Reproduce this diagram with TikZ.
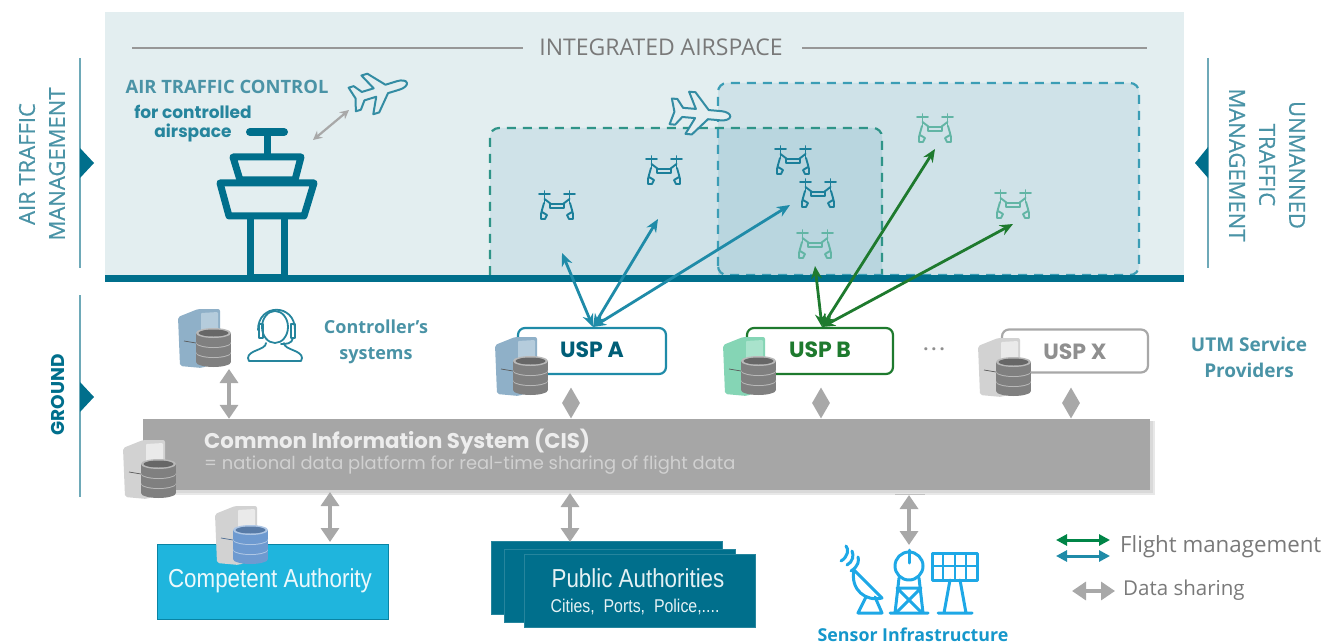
\documentclass[tikz,border=0pt]{standalone}
\usepackage{fontspec}
\usetikzlibrary{arrows.meta,calc,shapes.geometric}
\setmainfont{Open Sans}
\newfontfamily\headfont{Poppins}
\newfontfamily\narrowfont[FakeStretch=0.86]{Liberation Sans}
\newfontfamily\sidefont[FakeBold=0.5]{Open Sans}
\definecolor{teal1}{HTML}{006F8C}
\definecolor{tealtxt}{HTML}{4A93A6}
\definecolor{sky}{HTML}{E3EEF0}
\definecolor{zoneA}{HTML}{CFE2E8}
\definecolor{zoneAB}{HTML}{B9D6DF}
\definecolor{dashA}{HTML}{2F9488}
\definecolor{dashB}{HTML}{3B9DB5}
\definecolor{arrA}{HTML}{1F8BA8}
\definecolor{arrB}{HTML}{1E7A2E}
\definecolor{lgray}{HTML}{A8A8A8}
\definecolor{cisgray}{HTML}{A6A6A6}
\definecolor{droneL}{HTML}{62B5A5}
\definecolor{droneD}{HTML}{1B7F9A}
\definecolor{sensor}{HTML}{1EA8E6}
\definecolor{compfill}{HTML}{1FB5DD}
\definecolor{srvblue}{HTML}{8FB0C8}
\definecolor{srvbluel}{HTML}{B5CCDC}
\definecolor{srvgreen}{HTML}{85D5B5}
\definecolor{srvgreenl}{HTML}{A9E3CC}
\definecolor{srvgray}{HTML}{D2D2D2}
\definecolor{srvgrayl}{HTML}{EAEAEA}
\definecolor{dbgray}{HTML}{808080}
\definecolor{dbblue}{HTML}{6E9AD0}
\tikzset{
  x=1pt,y=-1pt,
  sideline/.style={draw=tealtxt!80,line width=1.2pt},
  marker/.style={fill=teal1,draw=none},
  lbl/.style={text=tealtxt,font=\bfseries\fontsize{18}{26}\selectfont,align=center},
  sidelbl/.style={text=tealtxt,font=\sidefont\fontsize{22}{30}\selectfont,align=center,inner sep=0pt},
  uspbox/.style={draw=#1,line width=2.2pt,fill=white,rounded corners=7pt},
  usptxt/.style={text=#1,font=\headfont\bfseries\fontsize{22}{26}\selectfont,inner sep=0pt},
  fm/.style={{Stealth[length=13pt,width=11pt]}-{Stealth[length=13pt,width=11pt]},line width=2.8pt,draw=#1},
  lgarrow/.style={{Triangle[length=11pt,width=11pt]}-{Triangle[length=11pt,width=11pt]},line width=3pt,draw=#1},
  ds/.style={{Triangle[length=14pt,width=18pt]}-{Triangle[length=14pt,width=18pt]},line width=3.4pt,draw=lgray},
  dmd/.style={diamond,fill=lgray,draw=none,minimum width=18pt,minimum height=31pt,inner sep=0pt,aspect=0.57},
  pubbox/.style={fill=teal1,draw=teal1!85!white,line width=.6pt,minimum width=231pt,minimum height=73pt,inner sep=0pt},
  sens/.style={draw=sensor,line width=3pt,line join=round,line cap=round},
  towerline/.style={draw=teal1,line width=7pt,line join=round,line cap=round},
}
% server icon: x, y of the top left corner, tower colour, tower light colour, disc colour
\newcommand{\srvicon}[5]{%
\begin{scope}[shift={(#1,#2)}]
  \fill[#3,rounded corners=2pt] (0,9)--(20,1)--(42,1)--(42,52)--(24,60)--(2,58)--cycle;
  \fill[#4,rounded corners=1pt] (23,5)--(40,4)--(40,30)--(23,32)--cycle;
  \draw[#5!70!black,line width=.7pt] (6,33)--(18,35);
  \foreach \yy in {45,35,25}{
    \fill[#5] (18,\yy) rectangle (53,\yy+9);
    \fill[#5] (35.5,\yy+9) ellipse [x radius=17.5,y radius=5];
    \fill[#5!55!white] (35.5,\yy) ellipse [x radius=17.5,y radius=5];
    \fill[#5!80!black] (35.5,\yy) ellipse [x radius=15,y radius=3.5];
  }
\end{scope}}
% drone icon: centre x, y, colour
\newcommand{\droneicon}[3]{%
\begin{scope}[shift={(#1,#2)},line width=1.9pt,line cap=round,line join=round]
  \draw[#3] (-18,-12)--(-7,-12) (7,-12)--(18,-12) (-12.5,-15)--(-12.5,-3) (12.5,-15)--(12.5,-3);
  \draw[#3] (-12.5,-7) -- (-6,-2) -- (6,-2) -- (12.5,-7);
  \draw[#3] (-7,-2) rectangle (7,2);
  \draw[#3] (-13,-3) -- (-15,4) -- (-16,8) -- (-16,13) -- (-12,13) -- (-10,9) -- (-15,6);
  \draw[#3] (13,-3) -- (15,4) -- (16,8) -- (16,13) -- (12,13) -- (10,9) -- (15,6);
\end{scope}}
% plane icon: centre x, y, rotation, scale
\newcommand{\planeicon}[4]{%
\begin{scope}[shift={(#1,#2)},rotate=#3,scale=#4,line join=round]
  \draw[draw=teal1!80,line width=2pt,fill=sky]
   (32,0) .. controls (32,-3) and (27,-5) .. (22,-5) -- (8,-5) -- (-8,-23) -- (-15,-23) -- (-6,-5)
   -- (-20,-5) -- (-27,-14) -- (-33,-14) -- (-29,0) -- (-33,14) -- (-27,14) -- (-20,5) -- (-6,5)
   -- (-15,23) -- (-8,23) -- (8,5) -- (22,5) .. controls (27,5) and (32,3) .. (32,0) -- cycle;
\end{scope}}
\begin{document}
\begin{tikzpicture}
\useasboundingbox (0,0) rectangle (1324,644);
% airspace
\fill[sky] (105,12) rectangle (1184,278);
\fill[zoneA,rounded corners=9pt] (490,128) -- (882,128) -- (882,300) -- (490,300) -- cycle;
\fill[zoneA,rounded corners=9pt] (718,83) -- (1139,83) -- (1139,276) -- (718,276) -- cycle;
\begin{scope}
  \clip (718,83) rectangle (1139,276);
  \fill[zoneAB,rounded corners=9pt] (490,128) -- (882,128) -- (882,300) -- (490,300) -- cycle;
\end{scope}
\fill[white] (100,281) rectangle (1190,305);
\draw[dashA,line width=2.2pt,dash pattern=on 9pt off 7pt,rounded corners=9pt] (490,275) -- (490,128) -- (882,128) -- (882,275);
\draw[dashB,line width=2.2pt,dash pattern=on 9pt off 7pt,rounded corners=9pt] (718,275) -- (718,83) -- (1139,83) -- (1139,275) -- cycle;
% title
\node[text=gray!95!black,font=\fontsize{23}{27}\selectfont,inner sep=0pt] (title) at (661,47) {INTEGRATED AIRSPACE};
\coordinate (tl) at (132,48);
\coordinate (tm1) at (523,48);
\coordinate (tm2) at (802,48);
\coordinate (tr) at (1147,48);
\draw[lgray!90!black,line width=2.4pt] (tl) -- (tm1);
\draw[lgray!90!black,line width=2.4pt] (tm2) -- (tr);
% left side
\draw[sideline] (80,58) -- (80,268);
\fill[marker] (80,148) -- (94,163) -- (80,178) -- cycle;
\node[sidelbl,rotate=90] (atm) at (42,164) {AIR TRAFFIC\\MANAGEMENT};
\draw[sideline] (1208,58) -- (1208,268);
\fill[marker] (1208,147) -- (1195,163) -- (1208,178) -- cycle;
\node[sidelbl,rotate=-90] (utm) at (1267,165) {UNMANNED\\TRAFFIC\\MANAGEMENT};
\draw[sideline] (80,295) -- (80,497);
\fill[marker] (80,382) -- (94,397) -- (80,412) -- cycle;
\node[text=teal1,font=\headfont\bfseries\fontsize{18.5}{22}\selectfont,rotate=90,inner sep=0pt] (gnd) at (58,395) {GROUND};
% ATC
\node[text=tealtxt,font=\bfseries\fontsize{18.4}{22}\selectfont,inner sep=0pt] (atc) at (227,87) {AIR TRAFFIC CONTROL};
\node[text=teal1!85,font=\headfont\bfseries\fontsize{17}{19}\selectfont,align=center,inner sep=0pt] (forc) at (193,124) {for controlled\\airspace};
\draw[towerline,line width=8pt] (250,132) -- (284,132);
\draw[towerline] (267,132) -- (267,155);
\draw[towerline] (233,157) -- (301,157) -- (295,180) -- (240,180) -- cycle;
\draw[towerline] (220,183) -- (314,183) -- (304,216) -- (229,216) -- cycle;
\draw[towerline,line cap=butt] (250,216) -- (250,276) (284,216) -- (284,276);
\draw[teal1,line width=3pt] (250,275) -- (284,275);
\planeicon{380}{91}{17}{0.88}
\coordinate (ca) at (313,140);
\coordinate (cb) at (349,110);
\draw[{Stealth[length=9pt,width=9pt]}-{Stealth[length=9pt,width=9pt]},draw=lgray,line width=2.2pt] (ca) -- (cb);
\planeicon{701}{114}{-5}{0.92}
% ground line
\fill[teal1] (105,275) rectangle (1184,282);
% drones
\droneicon{557}{206}{droneD}
\droneicon{664}{171}{droneD}
\droneicon{793}{161}{droneD}
\droneicon{818}{194}{droneD}
\droneicon{815}{245}{droneL}
\droneicon{935}{129}{droneL}
\droneicon{1013}{205}{droneL}
% USP boxes
\node[uspbox=arrA,minimum width=148pt,minimum height=46pt,inner sep=0pt] (uspa) at (592,351) {};
\node[usptxt=teal1!85!black] (uspat) at (592,350) {USP A};
\node[uspbox=arrB,minimum width=146pt,minimum height=46pt,inner sep=0pt] (uspb) at (820,351) {};
\node[usptxt=arrB] (uspbt) at (820,350) {USP B};
\node[uspbox=lgray,minimum width=146pt,minimum height=43pt,inner sep=0pt] (uspx) at (1075,351) {};
\node[usptxt=lgray!85!black] (uspxt) at (1075,352) {USP X};
\node[text=lgray!85!black,font=\bfseries\fontsize{18}{20}\selectfont,inner sep=0pt] (dots) at (934,349) {.\,.\,.};
\srvicon{495}{336}{srvblue}{srvbluel}{dbgray}
\srvicon{723}{336}{srvgreen}{srvgreenl}{dbgray}
\srvicon{978}{337}{srvgray}{srvgrayl}{dbgray}
\srvicon{178}{308}{srvblue}{srvbluel}{dbgray}
% USP arrows
\coordinate (a0) at (593,327);
\coordinate (a1) at (562,253);
\coordinate (a2) at (658,219);
\coordinate (a3) at (790,205);
\coordinate (b0) at (822,327);
\coordinate (b1) at (815,266);
\coordinate (b2) at (935,149);
\coordinate (b3) at (1013,224);
\foreach \t in {a1,a2,a3}
  \draw[fm=arrA] (a0) -- (\t);
\foreach \t in {b1,b2,b3}
  \draw[fm=arrB] (b0) -- (\t);
% controller
\begin{scope}[draw=teal1!85,line width=1.8pt,line cap=round,line join=round]
  \draw (275,327) ellipse [x radius=13,y radius=16];
  \draw (258,330) .. controls (258,303) and (295,303) .. (295,330);
  \draw (259,324) rectangle (263,338);
  \draw (291,324) rectangle (295,338);
  \draw (293,338) .. controls (292,344) and (286,344) .. (281,344);
  \draw (266,343) .. controls (266,350) and (248,350) .. (248,358) -- (249,361) -- (301,361) -- (302,358) .. controls (302,350) and (284,350) .. (284,343);
\end{scope}
\node[lbl] (ctrl) at (376,342) {Controller’s\\systems};
\node[lbl,font=\bfseries\fontsize{19}{26}\selectfont] (utmsp) at (1249,357) {UTM Service\\Providers};
% CIS
\fill[gray!18] (145,421) rectangle (1155,495);
\fill[gray!30] (145,421) rectangle (1153,493);
\node[fill=cisgray,minimum width=1007pt,minimum height=71pt,inner sep=0pt] (cis) at (646.5,454.5) {};
\node[anchor=west,text=white!93!black,font=\headfont\bfseries\fontsize{21.3}{25}\selectfont,inner sep=0pt] (cist) at (204,442) {Common Information System (CIS)};
\node[anchor=west,text=white!82!black,font=\headfont\fontsize{17.9}{21}\selectfont,inner sep=0pt] (cis2) at (204,465) {= national data platform for real-time sharing of flight data};
\srvicon{123}{439}{srvgray}{srvgrayl}{dbgray}
% diamonds
\node[dmd] (d1) at (571,403) {};
\node[dmd] (d2) at (821,403) {};
\node[dmd] (d3) at (1071,403) {};
% authorities
\node[draw=teal1!70!compfill,line width=1pt,fill=compfill,minimum width=231pt,minimum height=75pt,inner sep=0pt] (comp) at (272.5,581.5) {};
\node[text=white!92!compfill,font=\narrowfont\fontsize{26}{30}\selectfont,inner sep=0pt] (compt) at (270,581) {Competent Authority};
\srvicon{215}{505}{srvgray}{srvgrayl}{dbblue}
\node[pubbox] (p1) at (607,578) {};
\node[pubbox] (p2) at (620,586) {};
\node[pubbox] (p3) at (640,591) {};
\node[text=white!90!teal1,font=\narrowfont\fontsize{26}{30}\selectfont,inner sep=0pt] (pt1) at (638,578) {Public Authorities};
\node[text=white!90!teal1,font=\narrowfont\fontsize{18.5}{22}\selectfont,inner sep=0pt] (pt2) at (635,607) {Cities,\ \ Ports,\ \ Police,....};
% data sharing arrows
\coordinate (c1) at (229,369);
\draw[ds] (c1) -- (c1 |- cis.north);
\coordinate (c2) at (330,542);
\coordinate (c2t) at (330,492);
\draw[ds] (c2t) -- (c2);
\coordinate (c3) at (570,542);
\coordinate (c3t) at (570,493);
\draw[ds] (c3t) -- (c3);
\coordinate (c4) at (909,545);
\coordinate (c5) at (909,495);
\draw[ds] (c5) -- (c4);
\draw[lgray!70,line width=1pt] (895,494) -- (925,494);
% sensor icons
\begin{scope}
  \draw[sens] (851,571) .. controls (859,566) and (859,560) .. (858,557);
  \draw[sens] (847,565) .. controls (853,562) and (854,555) .. (852,551);
  \draw[sens] (841,561) .. controls (848,557) and (849,549) .. (846,546);
  \draw[sens] (854,570) .. controls (850,590) and (866,602) .. (882,598) -- cycle;
  \draw[sens] (866,597) -- (858,613) -- (882,613) -- (875,597);
  \draw[sens] (909,563) -- (909,550);
  \draw[sens] (909,566) circle [radius=14];
  \draw[sens] (899,578) -- (895,613) (919,578) -- (923,613) (890,613) -- (928,613);
  \draw[sens] (897,588) -- (921,612) (921,588) -- (897,612) (898,588) -- (920,588);
  \draw[sens] (932,553) rectangle (977,580);
  \draw[sens,line width=2pt] (943,553) -- (943,580) (955,553) -- (955,580) (966,553) -- (966,580) (932,566) -- (977,566);
  \draw[sens] (950,580) -- (944,613) (960,580) -- (966,613) (938,613) -- (972,613);
\end{scope}
\node[text=sensor!70!teal1,font=\bfseries\fontsize{17.8}{21}\selectfont,inner sep=0pt] (senst) at (913,635) {Sensor Infrastructure};
% legend
\coordinate (l1a) at (1056,540);
\coordinate (l1b) at (1110,540);
\coordinate (l2a) at (1056,556);
\coordinate (l2b) at (1110,556);
\draw[lgarrow=teal!70!green!80!black] (l1a) -- (l1b);
\draw[lgarrow=arrA] (l2a) -- (l2b);
\node[anchor=west,text=gray!95!black,font=\fontsize{22.3}{26}\selectfont,inner sep=0pt] (lg1) at (1120,547) {Flight management};
\coordinate (l3a) at (1072,591);
\coordinate (l3b) at (1115,591);
\draw[ds] (l3a) -- (l3b);
\node[anchor=west,text=gray!95!black,font=\fontsize{20.5}{24}\selectfont,inner sep=0pt] (lg2) at (1123,590) {Data sharing};
\end{tikzpicture}
\end{document}
